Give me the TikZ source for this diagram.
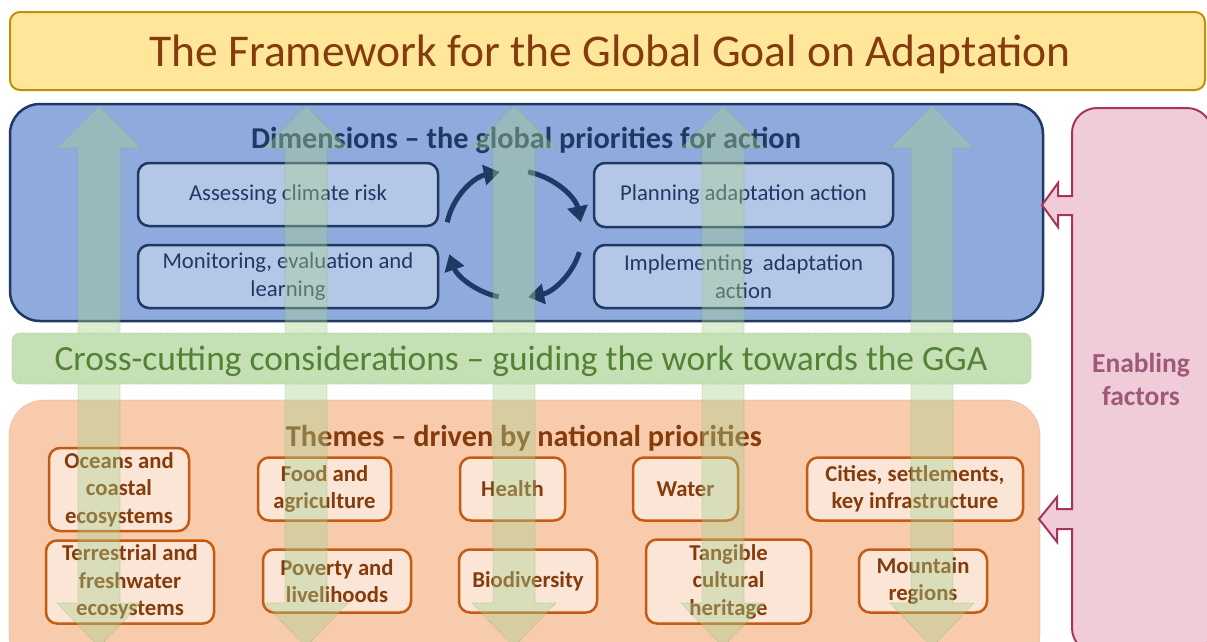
\documentclass[tikz,border=0pt]{standalone}
\usepackage{fontspec}
\setmainfont{Carlito}
\usetikzlibrary{arrows.meta}
\definecolor{titlefill}{HTML}{FFE699}
\definecolor{titleline}{HTML}{BF9000}
\definecolor{brown}{HTML}{843C0C}
\definecolor{bluefill}{HTML}{8FAADC}
\definecolor{navy}{HTML}{203864}
\definecolor{lightblue}{HTML}{B4C7E7}
\definecolor{bandfill}{HTML}{C5E0B4}
\definecolor{bandline}{HTML}{A9D18E}
\definecolor{bandtext}{HTML}{548235}
\definecolor{orangefill}{HTML}{F8CBAD}
\definecolor{orangeline}{HTML}{E0A080}
\definecolor{themefill}{HTML}{FBE5D6}
\definecolor{themeline}{HTML}{C55A11}
\definecolor{pinkfill}{HTML}{EFCCD8}
\definecolor{pinkline}{HTML}{A8345E}
\definecolor{pinktext}{HTML}{A0587A}
\definecolor{arrowfill}{HTML}{A9D18E}
\definecolor{arrowline}{HTML}{70AD47}
\tikzset{
  titlebox/.style={draw=titleline, fill=titlefill, line width=2pt, rounded corners=10pt, inner sep=0pt, text=brown},
  bigbox/.style={draw=navy, fill=bluefill, line width=2.5pt, rounded corners=30pt, inner sep=0pt},
  dimbox/.style={draw=navy, fill=lightblue, line width=2.5pt, rounded corners=11pt, inner sep=0pt, align=center, text=navy, font=\fontsize{22.7}{28}\selectfont},
  themebox/.style={draw=themeline, fill=themefill, line width=2.5pt, rounded corners=11pt, inner sep=0pt, align=center, text=brown, font=\bfseries\fontsize{22.7}{27.5}\selectfont},
  cyclearrow/.style={draw=navy, line width=5pt, -{Triangle[length=16pt,width=20pt]}},
  greenarrow/.style={fill=arrowfill, fill opacity=0.4, draw=arrowline, draw opacity=0.6, densely dotted, line width=0.6pt},
  blockarrow/.style={fill=pinkfill, draw=pinkline, line width=2pt, line join=miter},
}
\begin{document}
\begin{tikzpicture}[x=1pt,y=-1pt]
\useasboundingbox (0,0) rectangle (1207,641);
\clip (0,0) rectangle (1207,641);
% title
\node[titlebox, minimum width=1195pt, minimum height=78pt] (title) at (607.5,51) {};
\node[text=brown, inner sep=0pt, font=\fontsize{45.5}{50}\selectfont] (titletext) at (610,54) {The Framework for the Global Goal on Adaptation};
% dimensions
\node[bigbox, minimum width=1033pt, minimum height=217pt] (dims) at (526.5,212.5) {};
\node[text=navy, font=\bfseries\fontsize{30.3}{34}\selectfont, inner sep=0pt] (dimhead) at (526,140) {Dimensions – the global priorities for action};
\node[dimbox, minimum width=300pt, minimum height=63pt] (assess) at (288,194.5) {Assessing climate risk};
\node[dimbox, minimum width=300pt, minimum height=63pt] (monitor) at (288,276.5) {Monitoring, evaluation and\\learning};
\node[dimbox, minimum width=299pt, minimum height=64pt] (plan) at (743.5,195) {Planning adaptation action};
\node[dimbox, minimum width=299pt, minimum height=63pt] (implement) at (743.5,276.5) {Implementing\ \ adaptation\\action};
\coordinate (cyc) at (514,234.5);
\draw[cyclearrow] ([shift={(191:68 and 64)}]cyc) arc[start angle=191, end angle=258, x radius=68, y radius=64];
\draw[cyclearrow] ([shift={(282:68 and 64)}]cyc) arc[start angle=282, end angle=349, x radius=68, y radius=64];
\draw[cyclearrow] ([shift={(16:68 and 64)}]cyc) arc[start angle=16, end angle=78, x radius=68, y radius=64];
\draw[cyclearrow] ([shift={(103:68 and 64)}]cyc) arc[start angle=103, end angle=162, x radius=68, y radius=64];
% themes
\node[fill=orangefill, draw=orangeline, densely dotted, line width=0.6pt, rounded corners=35pt, minimum width=1031pt, minimum height=270pt, inner sep=0pt] (themes) at (524.5,535) {};
\node[text=brown, font=\bfseries\fontsize{30.3}{34}\selectfont, inner sep=0pt] (themehead) at (524,438) {Themes – driven by national priorities};
\node[themebox, minimum width=140pt, minimum height=83pt] (oceans) at (119,489.5) {Oceans and\\coastal\\ecosystems};
\node[themebox, minimum width=168pt, minimum height=83pt] (terrestrial) at (130,582) {Terrestrial and\\freshwater\\ecosystems};
\node[themebox, minimum width=133pt, minimum height=63pt] (food) at (324.5,489) {Food and\\agriculture};
\node[themebox, minimum width=148pt, minimum height=63pt] (poverty) at (337,581) {Poverty and\\livelihoods};
\node[themebox, minimum width=105pt, minimum height=63pt] (health) at (512.5,489) {Health};
\node[themebox, minimum width=138pt, minimum height=63pt] (biodiv) at (528,581) {Biodiversity};
\node[themebox, minimum width=105pt, minimum height=63pt] (water) at (685.5,489) {Water};
\node[themebox, minimum width=216pt, minimum height=63pt] (cities) at (915,489) {Cities, settlements,\\key infrastructure};
\node[themebox, minimum width=165pt, minimum height=84pt] (tangible) at (728.5,581.5) {Tangible\\cultural\\heritage};
\node[themebox, minimum width=128pt, minimum height=63pt] (mountain) at (923,581) {Mountain\\regions};
% vertical double arrows
\foreach \cx in {99,306,514,723,932}{
  \path[greenarrow] (\cx-21,148) -- (\cx-42,148) -- (\cx,106) -- (\cx+42,148) -- (\cx+21,148)
    -- (\cx+21,603) -- (\cx+42,603) -- (\cx,647) -- (\cx-42,603) -- (\cx-21,603) -- cycle;
}
% cross-cutting band
\node[fill=bandfill, draw=bandline, densely dotted, line width=0.8pt, rounded corners=8pt, minimum width=1019pt, minimum height=51pt, inner sep=0pt] (cross) at (521.5,358.5) {};
\node[text=bandtext, inner sep=0pt, font=\fontsize{35.4}{40}\selectfont] (crosstext) at (521,361) {Cross-cutting considerations – guiding the work towards the GGA};
% enabling factors
\node[fill=pinkfill, draw=pinkline, line width=2pt, rounded corners=25pt, minimum width=140pt, minimum height=545pt, inner sep=0pt] (enabling) at (1142,380.5) {};
\node[text=pinktext, align=center, font=\bfseries\fontsize{27.5}{33}\selectfont, inner sep=0pt] (enabtext) at (1141,379.5) {Enabling\\factors};
\fill[pinkfill] (1073,196) rectangle (1076,215);
\draw[blockarrow] (1073,196) -- (1058,196) -- (1058,183) -- (1042,205) -- (1058,227) -- (1058,215) -- (1073,215);
\fill[pinkfill] (1073,509) rectangle (1076,529);
\draw[blockarrow] (1073,509) -- (1057,509) -- (1057,497) -- (1039,519) -- (1057,542) -- (1057,529) -- (1073,529);
\end{tikzpicture}
\end{document}
